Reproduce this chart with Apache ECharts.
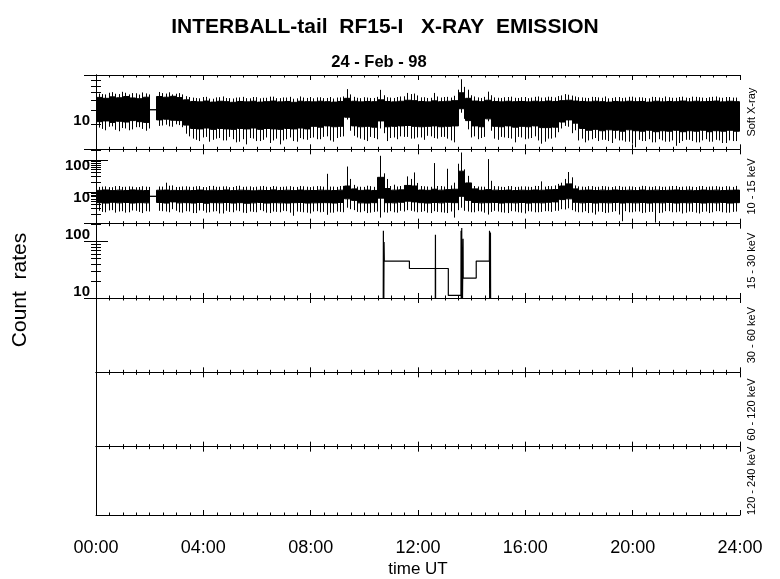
<!DOCTYPE html>
<html><head><meta charset="utf-8">
<script src="https://cdn.jsdelivr.net/npm/echarts@6/dist/echarts.min.js"></script>
<style>html,body{margin:0;padding:0;background:#fff}#c{width:780px;height:579px}</style>
</head><body><div id="c"></div>
<script>
// ---------- data ----------
const hourLabels = ['00:00','04:00','08:00','12:00','16:00','20:00','24:00'];
const panelNames = ['Soft X-ray','10 - 15 keV','15 - 30 keV','30 - 60 keV','60 - 120 keV','120 - 240 keV'];
const binHours = 0.25; // 15-minute bins, 96 per day

// Soft X-ray: dense core (lo..hi) and extreme spikes (min..max) per bin
const p1Hi = [19.3,18.8,19.6,19.1,19.8,19.0,18.6,19.4,13.6,19.8,19.4,19.9,19.2,18.0,
 17.2,17.0,17.4,16.9,17.3,17.1,16.8,17.2,17.0,17.3,16.9,17.1,17.4,17.0,17.2,16.8,17.3,17.1,
 17.0,17.3,17.1,16.9,17.2,18.8,17.3,17.0,17.2,17.1,18.0,17.2,17.0,17.3,17.8,17.6,17.2,17.0,
 17.5,17.1,17.3,17.6,22.0,18.8,17.4,17.1,17.8,17.2,17.0,17.3,17.1,17.2,17.0,17.3,17.1,17.4,
 17.2,17.6,17.8,17.4,17.2,17.0,17.3,17.1,16.9,17.2,17.0,17.3,17.1,17.2,16.9,17.3,17.0,17.2,
 17.1,17.4,17.0,17.3,17.1,17.2,17.4,17.0,17.3,17.1];
const p1Max = [21.5,21.0,22.4,21.2,22.0,21.8,20.9,21.6,13.6,22.5,21.5,21.0,21.8,20.0,
 19.2,18.8,19.6,18.6,19.4,19.0,18.7,19.3,18.9,19.5,18.8,19.1,19.7,18.9,19.2,18.6,19.8,19.0,
 18.8,19.4,19.0,18.7,19.3,24.4,19.6,18.9,19.2,19.0,23.9,19.4,19.0,19.8,21.9,21.5,19.3,19.0,
 21.9,19.2,19.6,20.2,32.3,24.0,19.8,19.0,22.7,19.3,19.0,19.5,19.1,19.4,18.9,19.6,19.2,19.7,
 19.3,20.4,20.8,19.8,19.3,19.0,19.5,19.1,18.8,19.4,19.0,19.6,19.2,19.3,18.8,19.5,19.0,19.4,
 19.1,19.7,19.0,19.6,19.2,19.4,19.8,19.1,19.5,19.2];
const p1Lo = [9.7,9.9,9.5,9.8,9.6,10.0,9.7,9.5,13.6,10.2,10.4,10.1,10.0,8.8,
 8.0,7.9,8.1,7.8,8.0,7.9,7.8,8.0,7.9,8.1,7.8,8.0,7.9,7.8,8.0,7.9,8.1,7.9,
 8.5,8.3,8.6,8.4,8.5,11.0,8.6,8.4,8.5,8.3,9.9,8.4,8.5,8.6,8.7,8.5,8.4,8.5,
 8.6,8.4,8.5,8.6,14.0,10.0,8.6,8.4,10.5,8.5,8.4,8.6,8.3,8.5,8.4,8.6,8.2,8.2,
 8.3,9.6,10.2,9.3,8.0,7.6,7.8,7.5,7.7,7.6,7.4,7.7,7.5,7.4,7.6,7.3,7.5,7.4,
 7.6,7.3,7.5,7.4,7.6,7.3,7.5,7.4,7.6,7.4];
const p1Min = [8.2,7.6,8.5,7.4,8.0,7.8,8.3,7.5,13.6,8.6,8.9,8.4,8.8,6.9,
 6.0,5.6,6.3,5.8,6.1,5.7,5.9,5.5,5.1,6.0,5.6,6.2,5.7,5.1,5.9,5.6,6.1,5.8,
 6.2,5.9,6.4,5.5,6.3,10.3,6.5,6.0,5.6,6.1,8.0,5.6,6.2,6.4,6.3,6.0,6.2,6.5,
 6.1,6.3,6.0,5.4,12.5,7.8,6.4,6.1,9.8,6.0,6.3,6.1,5.4,6.2,6.0,6.4,5.2,6.0,
 6.2,8.0,8.4,7.6,6.0,5.7,6.1,5.8,5.6,6.0,5.7,5.5,4.7,5.6,5.9,5.4,5.7,5.5,
 4.9,5.6,5.8,5.4,5.7,5.5,5.8,5.3,5.7,5.6];
// extra spikes at the bin boundaries (t = 0.25, 0.5, ... 23.75)
const p1MaxB = [21.2,22.0,21.4,22.6,21.0,21.7,22.2,21.0,13.6,21.8,22.3,21.4,21.0,19.5,
 19.0,19.5,18.7,19.3,19.8,18.9,19.2,19.6,18.8,19.4,19.1,19.7,18.9,19.3,19.6,18.8,19.2,19.5,
 19.3,18.9,19.5,19.2,19.8,21.0,19.1,19.4,19.0,19.6,20.5,19.2,19.5,19.9,21.2,20.4,19.4,19.1,
 19.8,19.5,19.2,24.0,26.0,20.5,19.3,19.6,20.5,19.1,19.4,19.7,19.0,19.5,19.2,19.8,19.3,19.6,
 20.0,21.2,20.3,19.4,19.1,19.6,19.3,19.8,19.0,19.5,19.2,19.7,19.4,19.0,19.6,19.3,19.8,19.1,
 19.5,19.2,19.7,19.4,19.0,19.6,19.3,19.5,19.2];
const p1MinB = [7.9,8.4,7.7,8.1,7.6,8.3,7.9,8.0,13.6,8.7,8.5,9.0,8.3,6.4,
 5.8,6.2,5.5,6.0,5.7,6.3,5.4,5.9,6.1,5.6,5.8,5.3,6.0,5.7,6.2,5.5,5.9,6.1,
 5.9,6.3,5.7,6.1,6.4,7.5,6.2,5.8,6.3,5.9,7.0,6.1,5.9,6.3,6.0,6.2,5.8,6.4,
 6.0,6.3,5.7,9.0,10.5,6.2,5.9,6.3,7.5,5.8,6.2,6.0,6.3,5.9,6.1,5.7,5.5,6.0,
 7.2,8.6,7.0,5.7,5.4,5.9,5.6,5.8,5.3,5.7,5.5,5.2,5.8,5.6,5.4,5.9,5.5,5.7,
 5.3,5.8,5.6,5.4,5.9,5.5,5.7,5.3,5.6];

// 10 - 15 keV
const p2Hi = [17.5,18.0,17.2,17.8,17.4,18.1,17.6,17.3,11.4,17.7,17.9,17.5,17.2,17.6,
 17.3,17.9,17.1,17.7,17.4,18.0,17.2,17.8,17.5,17.0,17.6,17.3,18.1,17.4,17.7,17.2,17.9,17.5,
 17.3,17.8,17.6,17.3,17.8,24.0,19.5,17.5,17.9,17.4,45.0,20.0,17.8,18.2,25.0,24.0,18.0,17.6,
 19.0,17.8,18.5,19.0,70.0,30.0,19.5,17.6,18.5,17.8,17.4,17.9,17.3,17.7,17.5,18.0,17.7,18.2,
 18.6,24.0,28.0,19.5,17.6,17.9,17.3,17.8,17.5,18.0,17.4,17.7,17.2,17.9,17.5,17.8,17.3,17.6,
 18.0,17.4,17.7,17.2,17.9,17.5,17.8,17.3,17.6,17.9];
const p2Max = [22.5,23.4,22.0,24.0,22.8,23.0,22.4,22.9,11.4,23.2,30.5,25.0,22.6,23.5,
 22.7,23.8,22.2,24.2,22.9,23.5,22.4,24.5,23.0,22.1,23.6,22.8,24.0,22.5,23.3,22.6,24.1,22.9,
 23.2,23.7,58.0,23.0,24.0,98.0,26.0,22.8,24.5,22.6,213,40.0,26.4,24.0,48.0,64.0,24.0,23.2,
 126,24.0,83.6,30.5,270,50.0,24.0,23.0,168,23.8,22.7,23.9,22.5,23.4,22.9,24.2,33.5,24.0,
 25.0,30.5,66.0,25.0,23.1,23.8,22.6,24.0,22.8,23.6,22.7,23.5,22.3,24.3,23.0,23.7,22.6,23.4,
 24.1,22.9,23.6,22.4,24.0,23.1,23.8,22.7,23.3,24.2];
const p2Lo = [7.2,7.0,7.4,7.1,7.3,7.0,7.2,7.1,11.4,7.3,7.0,7.6,7.1,7.2,
 7.0,7.3,6.9,7.2,7.1,7.3,7.0,7.2,6.9,7.1,7.3,7.0,7.2,7.1,7.0,7.2,7.3,7.0,
 7.1,7.2,7.2,7.0,7.3,9.5,8.5,7.1,7.0,7.2,10.0,7.2,7.1,7.4,8.0,7.6,7.2,7.0,
 7.3,7.1,7.4,7.2,11.4,8.5,7.3,7.1,7.2,7.3,7.0,7.2,7.1,7.3,7.0,7.2,7.1,7.4,
 7.6,9.0,9.5,7.4,7.1,7.3,7.0,7.2,7.1,7.3,7.0,7.2,7.1,7.3,7.0,7.2,7.1,7.3,
 7.0,7.2,7.1,7.3,7.0,7.2,7.1,7.3,7.0,7.2];
const p2Min = [4.0,3.6,4.2,3.8,3.5,4.1,3.7,3.9,11.4,4.0,3.8,4.5,3.6,3.9,
 3.4,4.1,3.5,3.8,3.3,4.0,3.6,3.9,3.4,3.7,4.2,3.5,3.8,3.6,3.9,2.8,3.7,3.5,
 3.8,3.6,3.0,3.5,3.7,5.0,4.2,3.6,3.4,3.7,2.45,3.5,3.6,4.0,4.2,3.8,3.7,3.5,
 3.9,3.6,3.4,2.45,5.0,3.8,3.6,3.8,3.05,4.0,3.6,3.4,3.8,3.5,3.9,3.6,3.7,3.9,
 4.0,4.5,4.8,3.8,3.6,3.4,3.05,3.7,3.5,3.9,1.88,3.6,3.8,3.4,3.7,1.71,3.5,3.9,
 3.6,3.3,3.8,3.5,3.7,3.4,3.9,3.6,3.5,3.8];
const p2MaxB = [23.0,22.2,23.8,22.5,23.4,22.0,23.6,22.5,11.4,23.0,24.5,22.4,23.2,
 22.8,23.6,22.3,24.0,22.7,23.3,22.1,23.9,22.6,23.4,22.9,24.1,22.4,23.1,22.8,23.7,22.5,23.5,22.2,23.8,22.9,
 23.0,22.6,24.2,40.0,23.0,22.5,23.8,22.9,60.0,24.0,23.2,25.0,40.0,30.0,23.5,22.7,24.0,23.1,25.0,
 120,80.0,30.0,23.2,22.8,35.0,23.6,22.4,23.9,22.7,23.3,22.5,24.0,23.0,23.7,28.0,40.0,45.0,
 23.4,22.6,23.9,22.8,23.5,22.3,24.1,22.9,23.2,22.7,23.8,22.5,23.6,22.9,24.0,22.4,23.3,22.8,23.7,22.6,23.4,22.9,23.8,22.5];
const p2MinB = [3.7,4.1,3.5,3.9,3.6,4.0,3.4,3.8,11.4,3.9,3.6,4.0,3.5,
 3.8,3.4,4.0,3.6,3.9,3.3,3.7,4.1,3.5,3.8,3.6,3.9,3.4,3.7,4.0,3.5,3.8,3.6,3.3,3.9,3.7,
 3.5,3.8,3.6,4.5,3.7,3.9,3.5,3.8,3.6,3.9,3.5,3.8,4.0,3.6,3.9,3.4,3.7,3.5,3.8,
 4.2,4.0,3.6,3.9,3.5,3.7,3.8,3.5,3.9,3.6,3.3,3.8,3.6,3.9,3.7,4.0,4.4,4.2,
 3.6,3.9,3.5,3.8,3.4,3.7,3.05,3.9,3.6,3.8,3.5,3.7,3.4,3.9,3.6,3.8,3.5,3.7,3.3,3.8,3.6,3.9,3.5,3.7];

// 15 - 30 keV : sparse counts (values below the axis floor are off-scale)
const p3Time  = [10.70,10.71,10.72,10.735,10.745,11.68,11.68,12.645,12.645,12.65,12.655,12.655,
 13.13,13.13,13.60,13.605,13.615,13.63,13.64,13.68,13.685,14.17,14.17,14.66,14.665,14.675,14.70,14.71];
const p3Count = [1,119,1,75,34.8,34.8,25.8,25.8,1,101,1,25.8,
 25.8,8.7,8.7,119,1,133,1,86,17.5,17.5,34.8,34.8,119,1,110,1];

const yRange = [[4.43,36.4],[1.58,340],[7.83,158]];
const yLabelValues = [[10],[10,100],[10,100]];

// ---------- chart ----------
const chart = echarts.init(document.getElementById('c'), null, {renderer:'canvas'});
const PH = 74.33, TOP0 = 75;
const black = '#000';
const grids = [], xAxes = [], yAxes = [], series = [];
const yIndexOf = [];
for (let i = 0; i < 6; i++) {
  grids.push({left:96, right:40, top: TOP0 + i*PH, height: PH, containLabel:false});
  const last = i === 5;
  const xb = {type:'value', gridIndex:i, min:0, max:24, interval:4,
    axisLine:{show:true, onZero:false, lineStyle:{color:black, width:1}},
    axisTick:{show:true, inside:true, length:5, lineStyle:{color:black, width:1}},
    minorTick:{show:true, splitNumber:8, length:2.5, lineStyle:{color:black, width:1}},
    splitLine:{show:false}, minorSplitLine:{show:false}};
  xAxes.push(Object.assign({}, xb, {position:'bottom',
    axisLabel:{show:last, color:black, fontFamily:'Liberation Sans', fontSize:18, margin:24,
      formatter: v => hourLabels[Math.round(v/4)]},
    name: last ? 'time UT' : '', nameLocation:'middle', nameGap:46,
    nameTextStyle:{color:black, fontFamily:'Liberation Sans', fontSize:17}}));
  xAxes.push(Object.assign({}, xb, {position:'top', axisLabel:{show:false}}));
  const nameCfg = {name: panelNames[i], nameLocation:'middle', nameRotate:90, nameGap:6,
    nameTextStyle:{color:black, fontFamily:'Liberation Sans', fontSize:11, verticalAlign:'top'}};
  yIndexOf.push(yAxes.length);
  if (i < 3) {
    const yb = {type:'log', logBase:10, gridIndex:i, min:yRange[i][0], max:yRange[i][1], interval:1,
      axisLine:{show:true, lineStyle:{color:black, width:1}},
      axisTick:{show:true, inside:true, length:12, lineStyle:{color:black, width:1}},
      minorTick:{show:true, splitNumber:9, length:5, lineStyle:{color:black, width:1}},
      splitLine:{show:false}, minorSplitLine:{show:false}};
    yAxes.push(Object.assign({}, yb, {position:'left',
      axisLabel:{show:true, customValues:yLabelValues[i], margin:6, color:black,
        fontFamily:'Liberation Sans', fontWeight:'bold', fontSize:15, formatter: v => String(Math.round(v))}}));
    yAxes.push(Object.assign({}, yb, nameCfg, {position:'right', axisLabel:{show:false}}));
  } else {
    const yb = {type:'value', gridIndex:i, min:0, max:1, splitLine:{show:false},
      axisLine:{show:true, lineStyle:{color:black, width:1}}, axisTick:{show:false}, axisLabel:{show:false}};
    yAxes.push(Object.assign({}, yb, {position:'left'}));
    yAxes.push(Object.assign({}, yb, nameCfg, {position:'right'}));
  }
}
function candles(lo, hi, mn, mx) {
  return hi.map((h, k) => [k*binHours + binHours/2, lo[k], h, mn[k], mx[k]]);
}
function edgeSpikes(lo, hi, mn, mx) {
  return mx.map((m, k) => [(k+1)*binHours, lo[k], hi[k], mn[k], m]);
}
const candleStyle = {color:black, color0:black, borderColor:black, borderColor0:black, borderWidth:1};
const spikeStyle = {color:black, color0:black, borderColor:black, borderColor0:black, borderWidth:1};
[[p1Lo,p1Hi,p1Min,p1Max,p1MinB,p1MaxB],[p2Lo,p2Hi,p2Min,p2Max,p2MinB,p2MaxB]].forEach((d, i) => {
  series.push({type:'candlestick', xAxisIndex:2*i, yAxisIndex:yIndexOf[i], barWidth:'100%',
    encode:{x:0, y:[1,2,3,4]}, data:candles(d[0],d[1],d[2],d[3]), itemStyle:candleStyle, clip:true});
  series.push({type:'candlestick', xAxisIndex:2*i, yAxisIndex:yIndexOf[i], barWidth:1,
    encode:{x:0, y:[1,2,3,4]}, data:edgeSpikes(d[0],d[1],d[4],d[5]), itemStyle:spikeStyle, clip:true});
});
series.push({type:'line', xAxisIndex:4, yAxisIndex:yIndexOf[2], showSymbol:false, clip:true,
  data:p3Time.map((t,k)=>[t,p3Count[k]]), lineStyle:{color:black, width:1.2}});

chart.setOption({
  animation:false,
  backgroundColor:'#fff',
  grid:grids, xAxis:xAxes, yAxis:yAxes, series:series,
  graphic:[
    {type:'text', x:385, y:27, style:{text:'INTERBALL-tail  RF15-I   X-RAY  EMISSION',
      fill:black, font:'bold 21px "Liberation Sans"', align:'center', verticalAlign:'middle'}},
    {type:'text', x:379, y:62, style:{text:'24 - Feb - 98', fill:black, font:'bold 16.5px "Liberation Sans"',
      align:'center', verticalAlign:'middle'}},
    {type:'text', x:20, y:290, rotation:Math.PI/2, style:{text:'Count  rates', fill:black,
      font:'21px "Liberation Sans"', align:'center', verticalAlign:'middle'}}
  ]
});
</script></body></html>
